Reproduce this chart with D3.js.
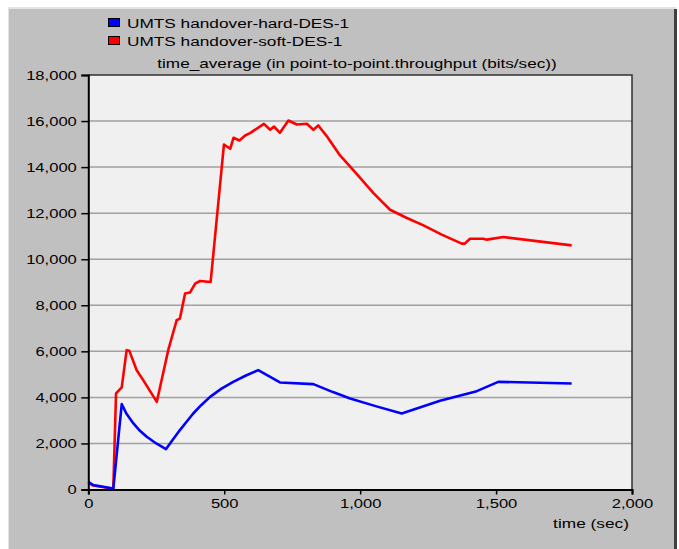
<!DOCTYPE html>
<html>
<head>
<meta charset="utf-8">
<script src="https://cdn.jsdelivr.net/npm/d3@7"></script>
<style>
  html, body { margin: 0; padding: 0; background: #ffffff; }
  svg { display: block; }
  text { font-family: Arial, "Liberation Sans", sans-serif; fill: #000; }
</style>
</head>
<body>
<svg id="chart" width="679" height="549"></svg>
<script>
// ---- data ----
const seriesNames = ["UMTS handover-hard-DES-1", "UMTS handover-soft-DES-1"];
const chartTitle = "time_average (in point-to-point.throughput (bits/sec))";
const xAxisLabel = "time (sec)";
const xTicks = [0, 500, 1000, 1500, 2000];
const yTicks = [0, 2000, 4000, 6000, 8000, 10000, 12000, 14000, 16000, 18000];

const timeHard = [0, 18, 86, 92, 123, 140, 166, 190, 215, 250, 286, 310, 337, 360, 386, 415, 448, 490, 533, 580, 625, 705, 828, 900, 963, 1060, 1153, 1294, 1429, 1508, 1778];
const valuesHard = [338, 195, 52, 35, 3708, 3300, 2870, 2550, 2290, 2000, 1756, 2150, 2580, 2920, 3300, 3660, 4024, 4380, 4675, 4950, 5182, 4649, 4575, 4230, 3955, 3610, 3305, 3851, 4271, 4675, 4605];

const timeSoft = [0, 18, 86, 92, 102, 123, 141, 151, 178, 202, 252, 294, 325, 337, 356, 374, 393, 411, 450, 499, 522, 534, 556, 577, 595, 646, 669, 683, 705, 736, 767, 804, 828, 846, 880, 926, 960, 987, 1020, 1049, 1080, 1110, 1170, 1233, 1300, 1374, 1385, 1404, 1453, 1466, 1527, 1778];
const valuesSoft = [300, 170, 40, 35, 4172, 4432, 6050, 6020, 5180, 4750, 3807, 6050, 7350, 7424, 8508, 8552, 8942, 9055, 9011, 14983, 14796, 15273, 15156, 15373, 15473, 15880, 15620, 15763, 15490, 16023, 15850, 15880, 15620, 15807, 15300, 14505, 14060, 13710, 13260, 12870, 12500, 12150, 11800, 11470, 11070, 10676, 10676, 10890, 10890, 10850, 10963, 10600];

const seriesColors = ["#0000ff", "#ff0000"];

// ---- layout ----
const SX = 1.38;      // horizontal stretch of the original screenshot text
const svg = d3.select("#chart");
const plot = { left: 88.3, right: 632, top: 75, bottom: 489.5 };

const x = d3.scaleLinear().domain([0, 2000]).range([plot.left, plot.right]);
const y = d3.scaleLinear().domain([0, 18000]).range([plot.bottom, plot.top]);

// panel
svg.append("rect").attr("x", 0).attr("y", 0).attr("width", 679).attr("height", 549).attr("fill", "#ffffff");
svg.append("rect").attr("x", 8).attr("y", 7).attr("width", 668).attr("height", 542).attr("fill", "#e4e4e4");
svg.append("rect").attr("x", 9).attr("y", 9).attr("width", 666).attr("height", 540).attr("fill", "#c0c0c0");
svg.append("rect").attr("x", 674).attr("y", 9).attr("width", 3).attr("height", 540).attr("fill", "#404040");

// plot background
svg.append("rect")
  .attr("x", plot.left).attr("y", plot.top)
  .attr("width", plot.right - plot.left).attr("height", plot.bottom - plot.top)
  .attr("fill", "#f0f0f0");

// gridlines
svg.append("g")
  .selectAll("line")
  .data(yTicks.filter(d => d > 0 && d < 18000))
  .join("line")
  .attr("x1", plot.left).attr("x2", plot.right)
  .attr("y1", d => y(d)).attr("y2", d => y(d))
  .attr("stroke", "#a0a0a0").attr("stroke-width", 1.5);

// top/right frame
svg.append("path")
  .attr("d", `M${plot.left},${plot.top}H${plot.right}V${plot.bottom}`)
  .attr("fill", "none").attr("stroke", "#303030").attr("stroke-width", 1.5);

// lines
const line = d3.line().x(d => x(d[0])).y(d => y(d[1]));
const hardData = timeHard.map((t, i) => [t, valuesHard[i]]);
const softData = timeSoft.map((t, i) => [t, valuesSoft[i]]);

svg.append("path").datum(softData)
  .attr("d", line).attr("fill", "none")
  .attr("stroke", seriesColors[1]).attr("stroke-width", 2.6)
  .attr("stroke-linejoin", "round");
svg.append("path").datum(hardData)
  .attr("d", line).attr("fill", "none")
  .attr("stroke", seriesColors[0]).attr("stroke-width", 2.6)
  .attr("stroke-linejoin", "round");

// axes
const fmt = d3.format(",");
const yAxis = svg.append("g")
  .attr("transform", `translate(${plot.left},0)`)
  .call(d3.axisLeft(y).tickValues(yTicks).tickSize(7).tickFormat(fmt));
yAxis.select(".domain").attr("stroke", "#000").attr("stroke-width", 2);
yAxis.selectAll(".tick line").attr("stroke", "#000").attr("stroke-width", 1.5);
yAxis.selectAll(".tick text")
  .attr("x", 0).attr("dy", null).attr("y", 4)
  .attr("transform", `translate(-11.5,0) scale(${SX},1)`)
  .attr("font-size", 12).attr("font-family", "Arial, 'Liberation Sans', sans-serif")
  .attr("fill", "#000");

const xAxis = svg.append("g")
  .attr("transform", `translate(0,${plot.bottom})`)
  .call(d3.axisBottom(x).tickValues(xTicks).tickSize(5).tickFormat(fmt));
xAxis.select(".domain").attr("stroke", "#000").attr("stroke-width", 2);
xAxis.selectAll(".tick line").attr("stroke", "#000").attr("stroke-width", 1.5);
xAxis.selectAll(".tick text")
  .attr("y", 0).attr("dy", null)
  .attr("transform", `translate(0,18.5) scale(${SX},1)`)
  .attr("font-size", 12).attr("font-family", "Arial, 'Liberation Sans', sans-serif")
  .attr("fill", "#000");

// title
svg.append("text")
  .attr("transform", `translate(357,68) scale(1.43,1)`)
  .attr("text-anchor", "middle").attr("font-size", 12)
  .text(chartTitle);

// x axis label
svg.append("text")
  .attr("transform", `translate(591,528) scale(1.44,1)`)
  .attr("text-anchor", "middle").attr("font-size", 12)
  .text(xAxisLabel);

// legend
const legend = svg.append("g");
seriesNames.forEach((name, i) => {
  const ly = 18 + i * 18;
  legend.append("rect")
    .attr("x", 108.5).attr("y", ly + 0.5)
    .attr("width", 11).attr("height", 8)
    .attr("fill", seriesColors[i]).attr("stroke", "#000").attr("stroke-width", 1);
  legend.append("text")
    .attr("transform", `translate(127,${ly + 9.5}) scale(${SX},1)`)
    .attr("font-size", 12.5)
    .text(name);
});
</script>
</body>
</html>
